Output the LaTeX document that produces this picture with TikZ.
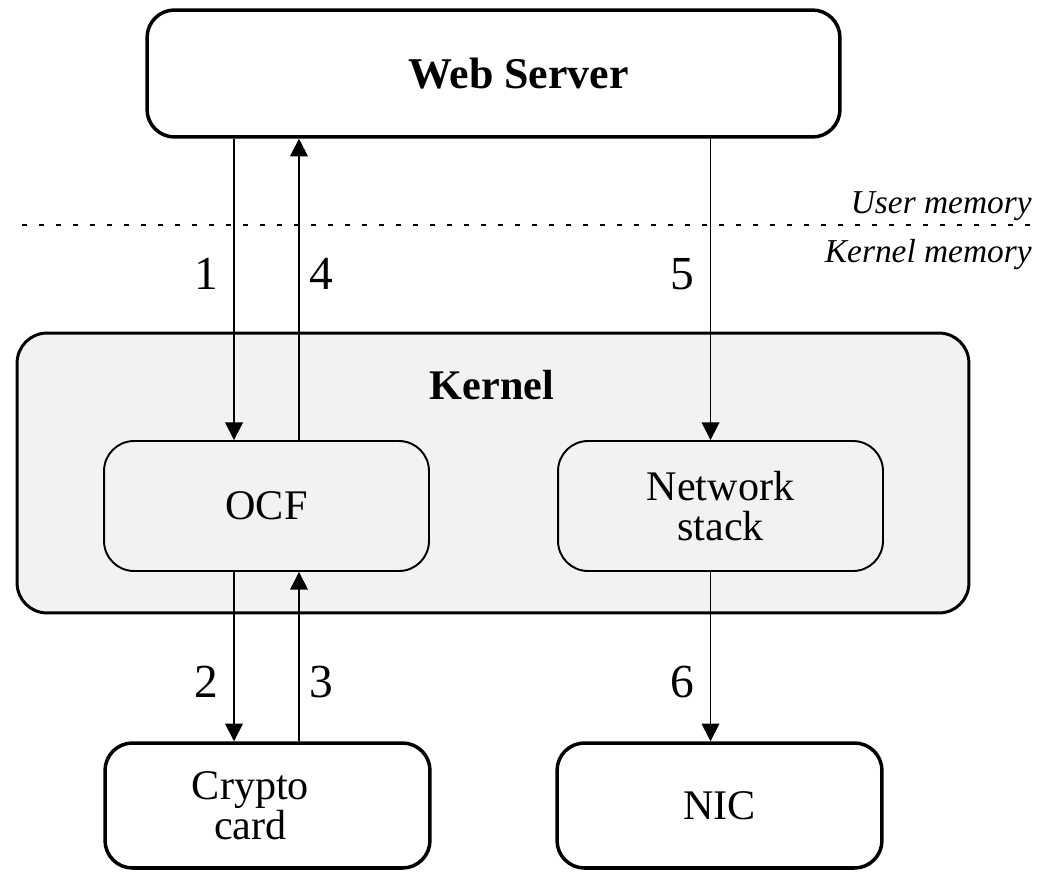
\documentclass[tikz,border=0pt]{standalone}
\usepackage{fontspec}
\setmainfont{Liberation Serif}
\usetikzlibrary{arrows.meta, positioning}
\definecolor{kgray}{HTML}{F2F2F2}
\tikzstyle{outer} = [rectangle, rounded corners=0.55cm, draw, line width=2pt, minimum width=6.5cm, minimum height=2.5cm, inner sep=0pt, align=center, font=\fontsize{24}{23}\selectfont]
\tikzstyle{inner} = [rectangle, rounded corners=0.6cm, draw, line width=1.1pt, fill=kgray, minimum width=6.5cm, minimum height=2.6cm, inner sep=0pt, align=center, font=\fontsize{24}{23}\selectfont]
\tikzstyle{call} = [line width=1pt, ->, >={Triangle[length=10pt, width=10pt]}]
\tikzstyle{num} = [inner sep=0pt, font=\fontsize{27}{27}\selectfont]
\tikzstyle{mem} = [anchor=base east, inner sep=0pt, font=\itshape\fontsize{19}{19}\selectfont]

\begin{document}
\begin{tikzpicture}[x=0.02cm, y=-0.02cm]
\useasboundingbox (0,0) rectangle (1050,872);
%Boxes
\node (ws) [outer, minimum width=13.86cm, minimum height=2.54cm, font=\bfseries\fontsize{25}{25}\selectfont] at (493.5,73.5) {\hspace*{1cm}Web Server};
\node (kernel) [outer, fill=kgray, line width=1.7pt, rounded corners=0.6cm, minimum width=19.04cm, minimum height=5.6cm] at (493,473) {};
\node (ktitle) [font=\bfseries\fontsize{24}{24}\selectfont, inner sep=0pt] at (492,385) {Kernel};
\node (ocf) [inner] at (266.5,506) {OCF};
\node (net) [inner] at (720.5,506) {Network\\stack};
\node (crypto) [outer] at (267.5,805.5) {Crypto\hspace*{0.68cm}\\card\hspace*{0.68cm}};
\node (nic) [outer] at (719.5,805.5) {NIC};
%User / kernel border
\coordinate (sepL) at (22,225);
\coordinate (sepR) at (1036,225);
\draw [line width=1pt, dash pattern=on 0.1cm off 0.24cm] (sepL) -- (sepR);
\node (umem) [mem] at (1032,213) {User memory};
\node (kmem) [mem] at (1032,262) {Kernel memory};
%Calls
\coordinate (c1) at ([xshift=-0.65cm]ocf.north);
\coordinate (c4) at ([xshift=0.65cm]ocf.north);
\coordinate (c2) at ([xshift=-0.65cm]ocf.south);
\coordinate (c3) at ([xshift=0.65cm]ocf.south);
\coordinate (c5) at ([xshift=-0.2cm]net.north);
\coordinate (c6) at ([xshift=-0.2cm]net.south);
\draw [call] (ws.south -| c1) -- node[num, left=0.3cm, pos=0.45] (n1) {1} (c1);
\draw [call] (c4) -- node[num, right=0.2cm, pos=0.55] (n4) {4} (ws.south -| c4);
\draw [call] (ws.south -| c5) -- node[num, left=0.3cm, pos=0.45] (n5) {5} (c5);
\draw [call] (c2) -- node[num, left=0.3cm, pos=0.65] (n2) {2} (crypto.north -| c2);
\draw [call] (crypto.north -| c3) -- node[num, right=0.2cm, pos=0.35] (n3) {3} (c3);
\draw [call] (c6) -- node[num, left=0.3cm, pos=0.65] (n6) {6} (nic.north -| c6);
\end{tikzpicture}
\end{document}
